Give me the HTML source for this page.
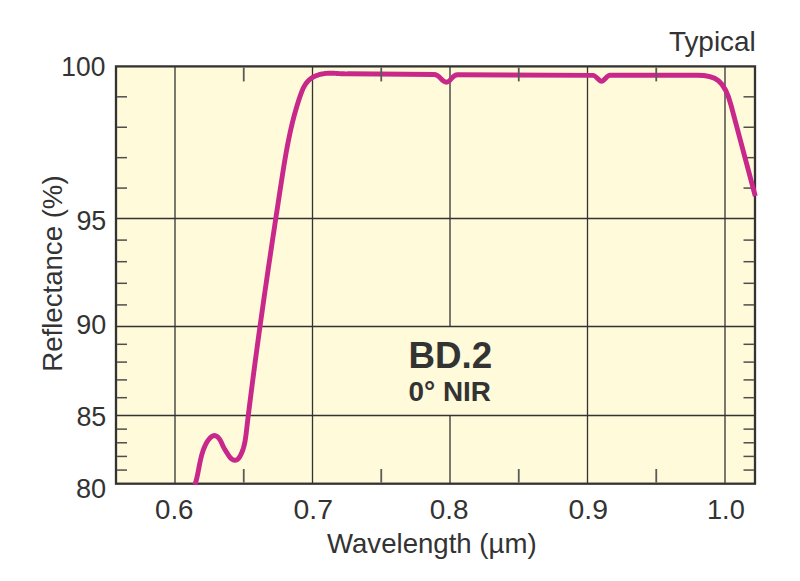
<!DOCTYPE html>
<html><head><meta charset="utf-8"><style>
html,body{margin:0;padding:0;background:#fff;width:800px;height:581px;overflow:hidden}
svg{display:block}
text{font-family:"Liberation Sans",sans-serif;fill:#333}
</style></head><body>
<svg width="800" height="581" viewBox="0 0 800 581">
<rect x="116.0" y="66.4" width="639.0" height="417.29999999999995" fill="#FFFAD9"/>
<g stroke="#333" stroke-width="1.3"><line x1="175" y1="66.4" x2="175" y2="483.7"/><line x1="312.5" y1="66.4" x2="312.5" y2="483.7"/><line x1="587.5" y1="66.4" x2="587.5" y2="483.7"/><line x1="725" y1="66.4" x2="725" y2="483.7"/><line x1="450" y1="66.4" x2="450" y2="326.5"/><line x1="450" y1="415.5" x2="450" y2="483.7"/></g>
<g stroke="#333" stroke-width="1.3"><line x1="116.0" y1="218.5" x2="755.0" y2="218.5"/><line x1="116.0" y1="326.5" x2="755.0" y2="326.5"/><line x1="116.0" y1="415.5" x2="755.0" y2="415.5"/></g>
<g stroke="#4e4e4e" stroke-width="1.5"><line x1="117.1" y1="96.82" x2="127.0" y2="96.82"/><line x1="743.5" y1="96.82" x2="753.9" y2="96.82"/><line x1="117.1" y1="127.24" x2="127.0" y2="127.24"/><line x1="743.5" y1="127.24" x2="753.9" y2="127.24"/><line x1="117.1" y1="157.66" x2="127.0" y2="157.66"/><line x1="743.5" y1="157.66" x2="753.9" y2="157.66"/><line x1="117.1" y1="188.08" x2="127.0" y2="188.08"/><line x1="743.5" y1="188.08" x2="753.9" y2="188.08"/><line x1="117.1" y1="240.10" x2="127.0" y2="240.10"/><line x1="743.5" y1="240.10" x2="753.9" y2="240.10"/><line x1="117.1" y1="261.70" x2="127.0" y2="261.70"/><line x1="743.5" y1="261.70" x2="753.9" y2="261.70"/><line x1="117.1" y1="283.30" x2="127.0" y2="283.30"/><line x1="743.5" y1="283.30" x2="753.9" y2="283.30"/><line x1="117.1" y1="304.90" x2="127.0" y2="304.90"/><line x1="743.5" y1="304.90" x2="753.9" y2="304.90"/><line x1="117.1" y1="344.30" x2="127.0" y2="344.30"/><line x1="743.5" y1="344.30" x2="753.9" y2="344.30"/><line x1="117.1" y1="362.10" x2="127.0" y2="362.10"/><line x1="743.5" y1="362.10" x2="753.9" y2="362.10"/><line x1="117.1" y1="379.90" x2="127.0" y2="379.90"/><line x1="743.5" y1="379.90" x2="753.9" y2="379.90"/><line x1="117.1" y1="397.70" x2="127.0" y2="397.70"/><line x1="743.5" y1="397.70" x2="753.9" y2="397.70"/><line x1="117.1" y1="429.14" x2="127.0" y2="429.14"/><line x1="743.5" y1="429.14" x2="753.9" y2="429.14"/><line x1="117.1" y1="442.78" x2="127.0" y2="442.78"/><line x1="743.5" y1="442.78" x2="753.9" y2="442.78"/><line x1="117.1" y1="456.42" x2="127.0" y2="456.42"/><line x1="743.5" y1="456.42" x2="753.9" y2="456.42"/><line x1="117.1" y1="470.06" x2="127.0" y2="470.06"/><line x1="743.5" y1="470.06" x2="753.9" y2="470.06"/></g>
<rect x="116.0" y="66.4" width="639.0" height="417.29999999999995" fill="none" stroke="#333" stroke-width="2.3"/>
<path d="M195.01,484.60 L195.30,483.65 L195.59,482.69 L195.86,481.72 L196.12,480.76 L196.37,479.79 L196.61,478.81 L196.85,477.84 L197.07,476.86 L197.29,475.89 L197.50,474.91 L197.70,473.93 L197.90,472.94 L198.10,471.96 L198.29,470.98 L198.48,470.00 L198.67,469.01 L198.86,468.03 L199.05,467.04 L199.24,466.06 L199.43,465.08 L199.62,464.10 L199.82,463.11 L200.02,462.13 L200.23,461.15 L200.45,460.18 L200.67,459.20 L200.90,458.22 L201.14,457.25 L201.39,456.28 L201.64,455.31 L201.91,454.35 L202.20,453.39 L202.49,452.43 L202.80,451.48 L203.12,450.53 L203.46,449.59 L203.82,448.65 L204.19,447.72 L204.58,446.80 L204.99,445.88 L205.41,444.98 L205.86,444.08 L206.32,443.19 L206.82,442.32 L207.34,441.47 L207.90,440.64 L208.49,439.82 L209.11,439.04 L209.77,438.28 L210.47,437.57 L211.22,436.90 L212.03,436.32 L212.91,435.85 L213.87,435.56 L214.87,435.54 L215.83,435.81 L216.72,436.28 L217.51,436.88 L218.24,437.57 L218.90,438.32 L219.50,439.12 L220.05,439.96 L220.56,440.83 L221.02,441.71 L221.45,442.62 L221.86,443.53 L222.27,444.45 L222.69,445.36 L223.12,446.26 L223.58,447.15 L224.05,448.03 L224.54,448.91 L225.05,449.77 L225.56,450.63 L226.09,451.48 L226.62,452.33 L227.16,453.18 L227.70,454.02 L228.24,454.86 L228.78,455.70 L229.35,456.53 L229.95,457.33 L230.61,458.09 L231.34,458.77 L232.15,459.36 L233.04,459.82 L233.98,460.14 L234.97,460.28 L235.97,460.18 L236.90,459.82 L237.72,459.26 L238.44,458.56 L239.06,457.78 L239.62,456.94 L240.12,456.08 L240.58,455.19 L241.02,454.29 L241.44,453.38 L241.84,452.46 L242.21,451.53 L242.56,450.59 L242.89,449.65 L243.21,448.69 L243.50,447.74 L243.77,446.77 L244.03,445.80 L244.27,444.83 L244.49,443.86 L244.70,442.88 L244.90,441.89 L245.08,440.91 L245.25,439.92 L245.41,438.93 L245.56,437.94 L245.71,436.95 L245.84,435.96 L245.97,434.97 L246.10,433.97 L246.22,432.98 L246.33,431.98 L246.45,430.99 L246.56,429.99 L246.68,429.00 L246.80,428.00 L246.91,427.01 L247.03,426.01 L247.15,425.02 L247.26,424.02 L247.38,423.03 L247.50,422.04 L247.62,421.04 L247.74,420.05 L247.86,419.05 L247.98,418.06 L248.10,417.06 L248.22,416.07 L248.34,415.07 L248.46,414.08 L248.59,413.09 L248.71,412.09 L248.83,411.10 L248.95,410.10 L249.08,409.11 L249.20,408.12 L249.32,407.12 L249.45,406.13 L249.57,405.13 L249.70,404.14 L249.82,403.15 L249.95,402.15 L250.07,401.16 L250.20,400.17 L250.32,399.17 L250.45,398.18 L250.57,397.18 L250.70,396.19 L250.83,395.20 L250.95,394.20 L251.08,393.21 L251.21,392.22 L251.33,391.22 L251.46,390.23 L251.59,389.24 L251.72,388.24 L251.84,387.25 L251.97,386.26 L252.10,385.26 L252.23,384.27 L252.36,383.28 L252.49,382.28 L252.61,381.29 L252.74,380.30 L252.87,379.30 L253.00,378.31 L253.13,377.32 L253.26,376.32 L253.39,375.33 L253.52,374.34 L253.65,373.34 L253.78,372.35 L253.91,371.36 L254.04,370.36 L254.18,369.37 L254.31,368.38 L254.44,367.39 L254.57,366.39 L254.70,365.40 L254.83,364.41 L254.97,363.41 L255.10,362.42 L255.23,361.43 L255.36,360.44 L255.50,359.44 L255.63,358.45 L255.76,357.46 L255.90,356.46 L256.03,355.47 L256.16,354.48 L256.30,353.49 L256.43,352.49 L256.57,351.50 L256.70,350.51 L256.83,349.52 L256.97,348.52 L257.10,347.53 L257.24,346.54 L257.37,345.55 L257.51,344.55 L257.64,343.56 L257.78,342.57 L257.92,341.58 L258.05,340.58 L258.19,339.59 L258.32,338.60 L258.46,337.61 L258.60,336.62 L258.73,335.62 L258.87,334.63 L259.01,333.64 L259.15,332.65 L259.28,331.65 L259.42,330.66 L259.56,329.67 L259.70,328.68 L259.83,327.69 L259.97,326.69 L260.11,325.70 L260.25,324.71 L260.39,323.72 L260.53,322.73 L260.66,321.73 L260.80,320.74 L260.94,319.75 L261.08,318.76 L261.22,317.77 L261.36,316.77 L261.50,315.78 L261.64,314.79 L261.78,313.80 L261.92,312.81 L262.06,311.82 L262.20,310.82 L262.34,309.83 L262.48,308.84 L262.62,307.85 L262.76,306.86 L262.90,305.87 L263.04,304.87 L263.19,303.88 L263.33,302.89 L263.47,301.90 L263.61,300.91 L263.75,299.92 L263.89,298.92 L264.04,297.93 L264.18,296.94 L264.32,295.95 L264.46,294.96 L264.61,293.97 L264.75,292.98 L264.89,291.98 L265.03,290.99 L265.18,290.00 L265.32,289.01 L265.46,288.02 L265.61,287.03 L265.75,286.04 L265.89,285.05 L266.04,284.05 L266.18,283.06 L266.33,282.07 L266.47,281.08 L266.61,280.09 L266.76,279.10 L266.90,278.11 L267.05,277.12 L267.19,276.12 L267.34,275.13 L267.48,274.14 L267.63,273.15 L267.77,272.16 L267.92,271.17 L268.06,270.18 L268.21,269.19 L268.35,268.20 L268.50,267.21 L268.65,266.21 L268.79,265.22 L268.94,264.23 L269.08,263.24 L269.23,262.25 L269.38,261.26 L269.52,260.27 L269.67,259.28 L269.82,258.29 L269.96,257.30 L270.11,256.31 L270.26,255.32 L270.40,254.32 L270.55,253.33 L270.70,252.34 L270.85,251.35 L270.99,250.36 L271.14,249.37 L271.29,248.38 L271.44,247.39 L271.58,246.40 L271.73,245.41 L271.88,244.42 L272.03,243.43 L272.18,242.44 L272.32,241.45 L272.47,240.46 L272.62,239.46 L272.77,238.47 L272.92,237.48 L273.07,236.49 L273.22,235.50 L273.36,234.51 L273.51,233.52 L273.66,232.53 L273.81,231.54 L273.96,230.55 L274.11,229.56 L274.26,228.57 L274.41,227.58 L274.56,226.59 L274.71,225.60 L274.86,224.61 L275.01,223.62 L275.16,222.63 L275.31,221.64 L275.46,220.65 L275.61,219.66 L275.76,218.67 L275.91,217.68 L276.06,216.69 L276.21,215.69 L276.36,214.70 L276.51,213.71 L276.66,212.72 L276.81,211.73 L276.96,210.74 L277.11,209.75 L277.26,208.76 L277.41,207.77 L277.56,206.78 L277.72,205.79 L277.87,204.80 L278.02,203.81 L278.17,202.82 L278.32,201.83 L278.47,200.84 L278.62,199.85 L278.77,198.86 L278.93,197.87 L279.08,196.88 L279.23,195.89 L279.38,194.90 L279.53,193.91 L279.68,192.92 L279.84,191.93 L279.99,190.94 L280.14,189.95 L280.29,188.96 L280.44,187.97 L280.60,186.98 L280.75,185.99 L280.90,185.00 L281.05,184.01 L281.21,183.02 L281.36,182.03 L281.51,181.04 L281.66,180.05 L281.82,179.06 L281.97,178.07 L282.12,177.08 L282.28,176.09 L282.43,175.10 L282.59,174.11 L282.74,173.12 L282.90,172.14 L283.06,171.15 L283.21,170.16 L283.37,169.17 L283.53,168.18 L283.69,167.19 L283.85,166.20 L284.01,165.21 L284.17,164.22 L284.34,163.24 L284.50,162.25 L284.67,161.26 L284.83,160.27 L285.00,159.28 L285.17,158.30 L285.34,157.31 L285.51,156.32 L285.68,155.34 L285.85,154.35 L286.03,153.36 L286.20,152.38 L286.38,151.39 L286.56,150.41 L286.74,149.42 L286.92,148.44 L287.11,147.45 L287.29,146.47 L287.48,145.48 L287.67,144.50 L287.86,143.52 L288.05,142.53 L288.24,141.55 L288.44,140.57 L288.64,139.59 L288.84,138.60 L289.04,137.62 L289.24,136.64 L289.45,135.66 L289.65,134.68 L289.86,133.70 L290.08,132.72 L290.29,131.75 L290.51,130.77 L290.73,129.79 L290.95,128.81 L291.17,127.84 L291.40,126.86 L291.63,125.89 L291.86,124.91 L292.09,123.94 L292.33,122.97 L292.57,121.99 L292.81,121.02 L293.06,120.05 L293.30,119.08 L293.55,118.11 L293.81,117.14 L294.06,116.17 L294.32,115.20 L294.58,114.24 L294.85,113.27 L295.12,112.31 L295.39,111.34 L295.66,110.38 L295.94,109.42 L296.22,108.45 L296.50,107.49 L296.79,106.53 L297.08,105.58 L297.37,104.62 L297.67,103.66 L297.97,102.71 L298.28,101.75 L298.58,100.80 L298.89,99.85 L299.21,98.89 L299.53,97.95 L299.85,97.00 L300.17,96.05 L300.50,95.10 L300.84,94.16 L301.18,93.22 L301.53,92.28 L301.90,91.35 L302.28,90.42 L302.67,89.50 L303.09,88.59 L303.52,87.69 L303.98,86.80 L304.47,85.92 L304.98,85.06 L305.52,84.22 L306.09,83.39 L306.69,82.59 L307.33,81.82 L308.00,81.08 L308.71,80.37 L309.44,79.69 L310.22,79.05 L311.02,78.45 L311.85,77.89 L312.70,77.37 L313.58,76.89 L314.48,76.45 L315.39,76.04 L316.32,75.66 L317.26,75.31 L318.21,74.99 L319.17,74.69 L320.13,74.43 L321.11,74.19 L322.08,73.98 L323.07,73.80 L324.06,73.64 L325.05,73.51 L326.05,73.41 L327.05,73.33 L328.05,73.27 L329.05,73.23 L330.05,73.22 L331.05,73.22 L332.05,73.23 L333.05,73.26 L334.05,73.30 L335.05,73.35 L336.05,73.41 L337.05,73.46 L338.05,73.52 L339.05,73.58 L340.05,73.64 L341.05,73.70 L342.05,73.74 L343.06,73.78 L344.06,73.81 L345.06,73.83 L346.06,73.84 L347.06,73.84 L348.06,73.82 L434,74.5 C440,74.5 441.5,82.2 446.4,82.2 C450.8,82.2 452,74.75 457.5,74.75 L593,75.4 C596,75.4 599,81.3 601.6,81.3 C604,81.3 607,75.3 610,75.3 L697,75.3 C715.5,75.30 724.4,79.6 731.21,105.78 L755.26,196.20" fill="none" stroke="#C8288A" stroke-width="4.9" stroke-linejoin="round"/>
<g stroke="#5a5a5a" stroke-width="1.8"><line x1="243.75" y1="67.5" x2="243.75" y2="81.4"/><line x1="243.75" y1="469.0" x2="243.75" y2="482.59999999999997"/><line x1="381.25" y1="67.5" x2="381.25" y2="81.4"/><line x1="381.25" y1="469.0" x2="381.25" y2="482.59999999999997"/><line x1="518.75" y1="67.5" x2="518.75" y2="81.4"/><line x1="518.75" y1="469.0" x2="518.75" y2="482.59999999999997"/><line x1="656.25" y1="67.5" x2="656.25" y2="81.4"/><line x1="656.25" y1="469.0" x2="656.25" y2="482.59999999999997"/></g>
<text x="61.30" y="76.10" font-size="28.00" textLength="44.00" lengthAdjust="spacingAndGlyphs">100</text>
<text x="76.40" y="230.20" font-size="28.00" textLength="29.90" lengthAdjust="spacingAndGlyphs">95</text>
<text x="76.20" y="334.20" font-size="28.00" textLength="29.90" lengthAdjust="spacingAndGlyphs">90</text>
<text x="76.40" y="425.80" font-size="28.00" textLength="29.90" lengthAdjust="spacingAndGlyphs">85</text>
<text x="75.90" y="498.10" font-size="28.00" textLength="30.20" lengthAdjust="spacingAndGlyphs">80</text>
<text x="155.00" y="519.40" font-size="28.00" textLength="38.50" lengthAdjust="spacingAndGlyphs">0.6</text>
<text x="293.60" y="519.40" font-size="28.00" textLength="39.40" lengthAdjust="spacingAndGlyphs">0.7</text>
<text x="429.80" y="519.40" font-size="28.00" textLength="38.80" lengthAdjust="spacingAndGlyphs">0.8</text>
<text x="568.60" y="519.40" font-size="28.00" textLength="39.40" lengthAdjust="spacingAndGlyphs">0.9</text>
<text x="707.00" y="519.20" font-size="28.00" textLength="37.80" lengthAdjust="spacingAndGlyphs">1.0</text>
<text x="327.00" y="553.30" font-size="28.00" textLength="209.60" lengthAdjust="spacingAndGlyphs">Wavelength (µm)</text>
<text x="668.90" y="51.20" font-size="28.00" textLength="86.90" lengthAdjust="spacingAndGlyphs">Typical</text>
<text x="408.40" y="367.90" font-size="37.00" textLength="83.70" lengthAdjust="spacingAndGlyphs" font-weight="bold">BD.2</text>
<text x="408.60" y="401.00" font-size="28.00" textLength="82.40" lengthAdjust="spacingAndGlyphs" font-weight="bold">0° NIR</text>
<text transform="translate(62,273.6) rotate(-90)" font-size="28" text-anchor="middle" textLength="196.4" lengthAdjust="spacingAndGlyphs">Reflectance (%)</text>

</svg>
</body></html>
